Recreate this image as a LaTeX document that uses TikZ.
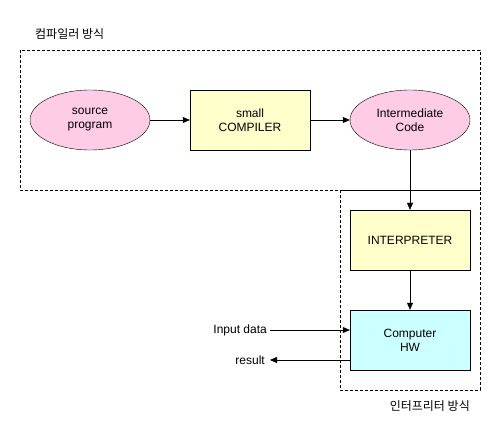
\documentclass[tikz,border=0pt]{standalone}
\usepackage{fontspec}
\setmainfont{Liberation Sans}
\newfontfamily\kofont{Noto Sans CJK KR}
\usetikzlibrary{shapes.geometric, arrows.meta}

\begin{document}
\begin{tikzpicture}[
        x=1pt, y=-1pt,
        every node/.style={font=\fontsize{12}{14}\selectfont, align=center, inner sep=0pt},
        ovalbox/.style={draw, ellipse, fill=pink!80!magenta!20, minimum width=120pt, minimum height=60pt},
        stepbox/.style={draw, rectangle, minimum width=120pt, minimum height=60pt},
        groupbox/.style={draw, dashed, dash pattern=on 3pt off 2pt},
        flow/.style={draw, -{Triangle[length=7pt, width=6pt]}}
      ]
      \useasboundingbox (0,0) rectangle (501,441);

      % dashed groups
      \draw[groupbox] (20,50) rectangle (480,190);
      \draw[groupbox] (340,190) rectangle (480,390);
      \node[anchor=west, font=\kofont\fontsize{12}{14}\selectfont] (compilerlabel) at (35,34) {컴파일러 방식};
      \node[anchor=east, font=\kofont\fontsize{12}{14}\selectfont] (interplabel) at (470,406) {인터프리터 방식};

      % nodes
      \node[ovalbox, fill={rgb,255:red,255;green,204;blue,230}] (source) at (90,120) {source\\program};
      \node[stepbox, fill={rgb,255:red,255;green,255;blue,204}] (compiler) at (250,120) {small\\COMPILER};
      \node[ovalbox, fill={rgb,255:red,255;green,204;blue,230}] (inter) at (410,120) {Intermediate\\Code};
      \node[stepbox, fill={rgb,255:red,255;green,255;blue,204}] (interp) at (410,240) {INTERPRETER};
      \node[stepbox, fill={rgb,255:red,204;green,255;blue,255}] (hw) at (410,340) {Computer\\HW};
      \node[anchor=east] (input) at (267,330) {Input data};
      \node[anchor=east] (result) at (265,360) {result};

      % connectors
      \draw[flow] (source) -- (compiler);
      \draw[flow] (compiler) -- (inter);
      \draw[flow] (inter) -- (interp);
      \draw[flow] (interp) -- (hw);
      \draw[flow] ([xshift=3pt]input.east) -- (input.east -| hw.west);
      \draw[flow] (result.east -| hw.west) -- ([xshift=5pt]result.east);

\end{tikzpicture}
\end{document}
